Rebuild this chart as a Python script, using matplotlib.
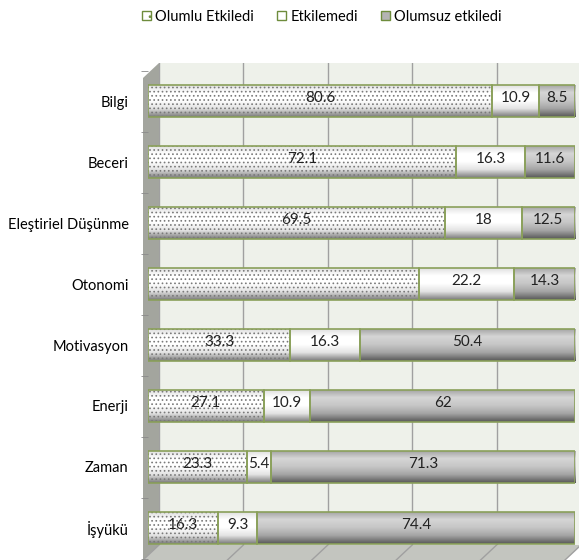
import numpy as np
import matplotlib
matplotlib.use("Agg")
import matplotlib.pyplot as plt
from matplotlib.patches import Polygon, Patch
from matplotlib.colors import LinearSegmentedColormap

plt.rcParams['font.family'] = ['Lato', 'DejaVu Sans']
plt.rcParams['hatch.linewidth'] = 0.7

# Daten
kategoriler = ["Bilgi", "Beceri", "Eleştiriel Düşünme", "Otonomi",
               "Motivasyon", "Enerji", "Zaman", "İşyükü"]
olumlu = [80.6, 72.1, 69.5, 63.5, 33.3, 27.1, 23.3, 16.3]
etkilemedi = [10.9, 16.3, 18, 22.2, 16.3, 10.9, 5.4, 9.3]
olumsuz = [8.5, 11.6, 12.5, 14.3, 50.4, 62, 71.3, 74.4]
olumlu_etiket = [True, True, True, False, True, True, True, True]
seri_adlari = ["Olumlu Etkiledi", "Etkilemedi", "Olumsuz etkiledi"]

W, H = 579, 560
fig = plt.figure(figsize=(W / 100, H / 100), dpi=100)


def fx(x):
    return x / W


def fy(y):
    return 1 - y / H


# Rückwand (3D-Effekt)
back = fig.add_axes([fx(159), fy(545), (581 - 159) / W, (545 - 63) / H], zorder=0)
back.set_facecolor("#eef1ea")
back.set_xlim(0, 100)
back.set_xticks(np.arange(0, 101, 20))
back.set_yticks([])
back.grid(axis="x", color="#a0a0a0", lw=1)
back.tick_params(length=0, labelbottom=False)
for s in back.spines.values():
    s.set_visible(False)

# linke Wand und Boden
wall = Polygon([(fx(143), fy(78)), (fx(159), fy(63)), (fx(159), fy(545)), (fx(143), fy(560))],
               closed=True, transform=fig.transFigure, facecolor="#a3a59e", edgecolor="none", zorder=0.5)
floor = Polygon([(fx(143), fy(560)), (fx(159), fy(545)), (fx(581), fy(545)), (fx(565), fy(560))],
                closed=True, transform=fig.transFigure, facecolor="#c3c5bf", edgecolor="none", zorder=0.5)
fig.add_artist(wall)
fig.add_artist(floor)
for g in np.arange(0, 101, 20):
    gx = 159 + g * (581 - 159) / 100
    fig.add_artist(plt.Line2D([fx(gx), fx(gx - 16)], [fy(545), fy(560)],
                              transform=fig.transFigure, color="#a0a0a0", lw=1, zorder=0.6))

# Balken
ax = fig.add_axes([fx(148), fy(558.5), (575 - 148) / W, (558.5 - 70.5) / H], zorder=1)
ax.patch.set_alpha(0)
y = np.arange(len(kategoriler))
h = 0.53

cm_white = LinearSegmentedColormap.from_list("w", ["#dcdcdc", "#ffffff", "#ffffff", "#e2e2e2", "#7a7a7a"])
cm_grey = LinearSegmentedColormap.from_list("g", ["#a0a0a0", "#d6d6d6", "#c6c6c6", "#a4a4a4", "#585858"])
grad = np.linspace(0, 1, 64).reshape(-1, 1)

left = np.zeros(len(y))
serien = [olumlu, etkilemedi, olumsuz]
for i, vals in enumerate(serien):
    vals = np.array(vals, dtype=float)
    cmap = cm_grey if i == 2 else cm_white
    bars = ax.barh(y, vals, left=left, height=h, color="none", edgecolor="#8aa05a", lw=1.2, zorder=4)
    for b in bars:
        x0, y0 = b.get_x(), b.get_y()
        im = ax.imshow(grad, cmap=cmap, aspect="auto", zorder=2,
                       extent=(x0, x0 + b.get_width(), y0 + b.get_height(), y0))
        im.set_clip_path(b)
    if i == 0:
        ax.barh(y, vals, left=left, height=h, color="none", edgecolor="#7a7a7a", hatch="....", lw=0, zorder=3)
    for k, (v, l) in enumerate(zip(vals, left)):
        if i == 0 and not olumlu_etiket[k]:
            continue
        ax.text(l + v / 2, k - 0.05, f"{v:g}", ha="center", va="center", fontsize=11, color="#222222", zorder=5)
    left = left + vals

ax.set_xlim(0, 100)
ax.set_ylim(len(y) - 0.5, -0.5)
ax.set_yticks(y)
ax.set_yticklabels(kategoriler, fontsize=10.5)
ax.set_yticks(np.arange(-0.5, len(y), 1), minor=True)
ax.tick_params(axis="y", which="major", length=0, pad=14)
ax.tick_params(axis="y", which="minor", length=5, color="#8a8a8a", pad=0)
ax.set_xticks([])
for s in ax.spines.values():
    s.set_visible(False)

# Legende
handles = [Patch(facecolor="white", edgecolor="#6e8c3c", hatch="..", label=seri_adlari[0]),
           Patch(facecolor="white", edgecolor="#6e8c3c", label=seri_adlari[1]),
           Patch(facecolor="#b4b4b4", edgecolor="#6e8c3c", label=seri_adlari[2])]
fig.legend(handles=handles, loc="center", bbox_to_anchor=(fx(322), fy(17)), ncol=3, frameon=False,
           fontsize=10.5, handlelength=0.6, handleheight=0.6, handletextpad=0.3, columnspacing=1.6)

fig.savefig("out.png", dpi=100)
